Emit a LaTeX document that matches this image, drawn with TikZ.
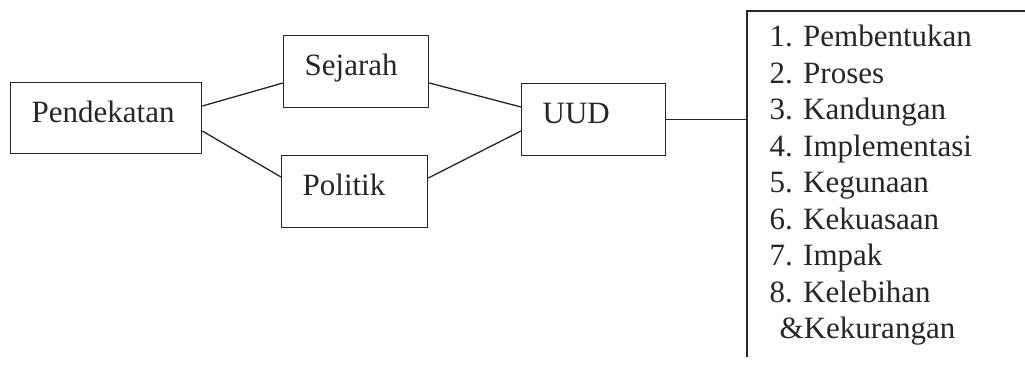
\documentclass[tikz,border=0pt]{standalone}
\usepackage{fontspec}
\setmainfont{Liberation Serif}
\usetikzlibrary{calc}
\begin{document}
\begin{tikzpicture}[x=1pt,y=-1pt,
  line width=1.3pt, draw=black!85,
  every node/.style={font=\fontsize{31}{36.5}\selectfont, text=black!85},
  box/.style={draw, inner ysep=0pt, inner xsep=21pt, align=left,
              anchor=north west, text height=40pt},
  link/.style={line width=1.3pt}]
  \useasboundingbox (0,0) rectangle (1025,366);

  % boxes: text sits 21pt in from the left edge, baseline 40pt below the top
  \node[box, text width=149pt, text depth=31pt] (pend) at (10,82)  {Pendekatan};
  \node[box, text width=103pt, text depth=32pt] (sej)  at (283,35)  {Sejarah};
  \node[box, text width=104pt, text depth=32pt] (pol)  at (281,155) {Politik};
  \node[box, text width=102pt, text depth=32pt] (uud)  at (521,83)  {UUD};

  % open bracket around the list
  \coordinate (brtop) at (747,11);
  \coordinate (brend) at (1025,11);
  \coordinate (brbot) at (747,357);
  \draw (brend) -- (brtop) -- (brbot);

  \node[anchor=north west, inner sep=0pt, align=left] (list) at (769,24.5)
    {1. Pembentukan\\
     2. Proses\\
     3. Kandungan\\
     4. Implementasi\\
     5. Kegunaan\\
     6. Kekuasaan\\
     7. Impak\\
     8. Kelebihan\\
     \hspace*{10pt}\&Kekurangan};

  % connectors
  \draw[link] ($(pend.north east)+(0,24)$) -- ($(sej.north west)+(0,48)$);
  \draw[link] ($(pend.north east)+(0,49)$) -- ($(pol.north west)+(0,22)$);
  \draw[link] ($(sej.north east)+(0,48)$) -- ($(uud.north west)+(0,24)$);
  \draw[link] ($(pol.north east)+(0,23)$) -- ($(uud.north west)+(0,48)$);
  \draw[link] (uud.east) -- (uud.east -| brtop);
\end{tikzpicture}
\end{document}
